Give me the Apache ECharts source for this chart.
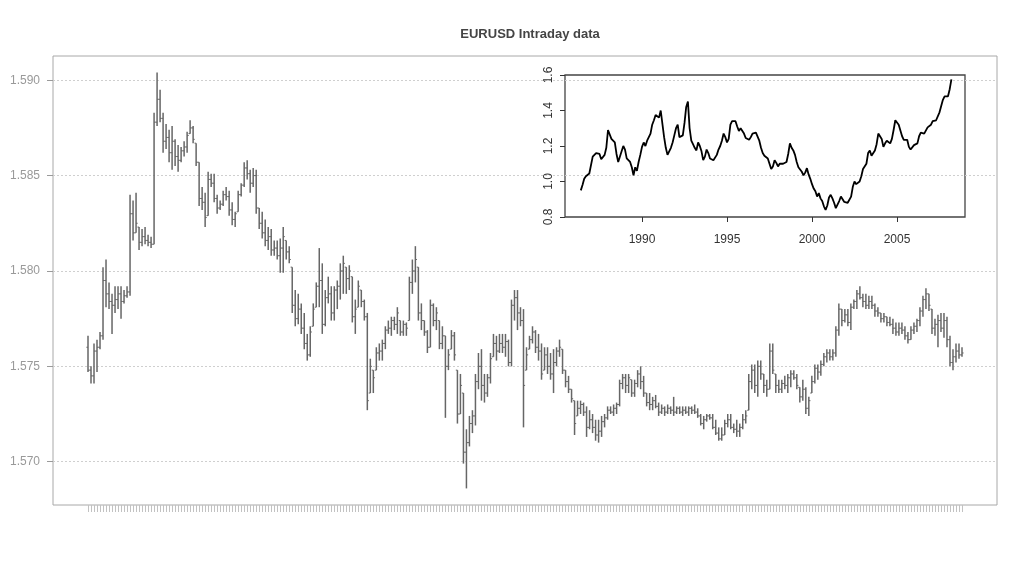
<!DOCTYPE html>
<html>
<head>
<meta charset="utf-8">
<script src="https://cdn.jsdelivr.net/npm/echarts@6/dist/echarts.min.js"></script>
<style>html,body{margin:0;padding:0;background:#fff}#c{width:1024px;height:576px}</style>
</head>
<body>
<div id="c"></div>
<script>
// ---- main chart: OHLC bars (EURUSD intraday) ----
const barOpen = [1.5760,1.5748,1.5745,1.5758,1.5760,1.5766,1.5795,1.5788,1.5784,1.5782,
1.5785,1.5788,1.5784,1.5787,1.5789,1.5830,1.5820,1.5823,1.5815,1.5818,
1.5816,1.5815,1.5814,1.5878,1.5890,1.5880,1.5868,1.5870,1.5862,1.5868,
1.5860,1.5858,1.5863,1.5865,1.5872,1.5875,1.5867,1.5857,1.5838,1.5836,
1.5829,1.5848,1.5846,1.5838,1.5833,1.5835,1.5840,1.5839,1.5832,1.5827,
1.5831,1.5840,1.5845,1.5854,1.5851,1.5846,1.5850,1.5833,1.5825,1.5820,
1.5816,1.5818,1.5811,1.5812,1.5808,1.5812,1.5816,1.5810,1.5802,1.5782,
1.5775,1.5780,1.5770,1.5762,1.5756,1.5771,1.5781,1.5792,1.5795,1.5772,
1.5786,1.5788,1.5778,1.5790,1.5792,1.5800,1.5802,1.5796,1.5797,1.5776,
1.5781,1.5790,1.5784,1.5776,1.5736,1.5748,1.5748,1.5757,1.5758,1.5762,
1.5769,1.5770,1.5774,1.5772,1.5774,1.5768,1.5772,1.5774,1.5794,1.5800,
1.5802,1.5778,1.5774,1.5768,1.5760,1.5782,1.5774,1.5774,1.5762,1.5766,
1.5750,1.5759,1.5766,1.5748,1.5725,1.5736,1.5705,1.5710,1.5720,1.5724,
1.5742,1.5750,1.5740,1.5736,1.5744,1.5755,1.5762,1.5758,1.5762,1.5760,
1.5763,1.5752,1.5782,1.5786,1.5778,1.5774,1.5748,1.5759,1.5764,1.5768,
1.5760,1.5758,1.5748,1.5756,1.5750,1.5746,1.5752,1.5758,1.5759,1.5748,
1.5742,1.5738,1.5732,1.5724,1.5728,1.5730,1.5726,1.5718,1.5722,1.5718,
1.5714,1.5716,1.5721,1.5723,1.5727,1.5726,1.5728,1.5730,1.5741,1.5744,
1.5740,1.5743,1.5736,1.5741,1.5746,1.5742,1.5736,1.5731,1.5730,1.5732,
1.5729,1.5726,1.5728,1.5726,1.5728,1.5727,1.5726,1.5728,1.5726,1.5727,
1.5726,1.5728,1.5727,1.5726,1.5724,1.5720,1.5722,1.5724,1.5723,1.5718,
1.5715,1.5712,1.5714,1.5720,1.5722,1.5718,1.5717,1.5716,1.5718,1.5722,
1.5727,1.5742,1.5748,1.5740,1.5750,1.5746,1.5740,1.5738,1.5758,1.5746,
1.5740,1.5738,1.5741,1.5740,1.5744,1.5746,1.5744,1.5739,1.5734,1.5738,
1.5728,1.5736,1.5742,1.5749,1.5747,1.5751,1.5755,1.5757,1.5755,1.5757,
1.5769,1.5780,1.5774,1.5777,1.5773,1.5781,1.5784,1.5788,1.5786,1.5784,
1.5782,1.5784,1.5782,1.5779,1.5778,1.5775,1.5776,1.5773,1.5772,1.5770,
1.5768,1.5770,1.5769,1.5766,1.5764,1.5769,1.5771,1.5774,1.5779,1.5785,
1.5788,1.5780,1.5770,1.5772,1.5774,1.5770,1.5774,1.5764,1.5752,1.5755,
1.5758,1.5756];
const barHigh = [1.5766,1.5750,1.5762,1.5764,1.5768,1.5802,1.5806,1.5794,1.5788,1.5792,
1.5792,1.5792,1.5790,1.5792,1.5840,1.5837,1.5841,1.5823,1.5822,1.5823,
1.5819,1.5818,1.5883,1.5904,1.5895,1.5883,1.5877,1.5874,1.5876,1.5869,
1.5866,1.5865,1.5868,1.5873,1.5879,1.5876,1.5867,1.5857,1.5844,1.5841,
1.5852,1.5851,1.5851,1.5840,1.5837,1.5842,1.5844,1.5842,1.5836,1.5831,
1.5842,1.5846,1.5857,1.5858,1.5853,1.5854,1.5853,1.5833,1.5831,1.5827,
1.5823,1.5822,1.5816,1.5816,1.5817,1.5823,1.5816,1.5813,1.5802,1.5790,
1.5788,1.5783,1.5778,1.5767,1.5771,1.5783,1.5794,1.5812,1.5804,1.5790,
1.5797,1.5792,1.5792,1.5795,1.5804,1.5808,1.5802,1.5803,1.5797,1.5785,
1.5795,1.5790,1.5785,1.5778,1.5754,1.5748,1.5760,1.5762,1.5764,1.5771,
1.5774,1.5776,1.5776,1.5781,1.5774,1.5774,1.5773,1.5797,1.5806,1.5813,
1.5802,1.5783,1.5774,1.5769,1.5785,1.5783,1.5781,1.5774,1.5771,1.5766,
1.5759,1.5769,1.5768,1.5748,1.5746,1.5736,1.5717,1.5724,1.5727,1.5746,
1.5757,1.5759,1.5746,1.5746,1.5757,1.5767,1.5766,1.5767,1.5767,1.5767,
1.5764,1.5785,1.5790,1.5790,1.5781,1.5780,1.5760,1.5766,1.5771,1.5769,
1.5767,1.5762,1.5760,1.5760,1.5757,1.5759,1.5760,1.5764,1.5759,1.5748,
1.5745,1.5738,1.5732,1.5732,1.5732,1.5731,1.5729,1.5727,1.5725,1.5722,
1.5722,1.5724,1.5725,1.5729,1.5729,1.5730,1.5731,1.5743,1.5746,1.5746,
1.5746,1.5743,1.5743,1.5748,1.5750,1.5745,1.5736,1.5736,1.5734,1.5735,
1.5731,1.5730,1.5729,1.5730,1.5729,1.5734,1.5729,1.5729,1.5729,1.5729,
1.5729,1.5729,1.5730,1.5728,1.5725,1.5724,1.5725,1.5725,1.5725,1.5722,
1.5718,1.5718,1.5722,1.5725,1.5725,1.5720,1.5722,1.5720,1.5725,1.5727,
1.5746,1.5751,1.5751,1.5753,1.5753,1.5746,1.5743,1.5762,1.5762,1.5746,
1.5743,1.5743,1.5745,1.5746,1.5748,1.5748,1.5746,1.5739,1.5743,1.5739,
1.5734,1.5745,1.5751,1.5751,1.5753,1.5757,1.5759,1.5759,1.5759,1.5771,
1.5783,1.5780,1.5780,1.5780,1.5783,1.5785,1.5790,1.5792,1.5788,1.5788,
1.5787,1.5787,1.5783,1.5781,1.5778,1.5778,1.5776,1.5776,1.5775,1.5773,
1.5773,1.5773,1.5771,1.5768,1.5771,1.5773,1.5775,1.5781,1.5787,1.5791,
1.5788,1.5780,1.5775,1.5777,1.5778,1.5778,1.5776,1.5766,1.5759,1.5762,
1.5762,1.5760];
const barLow = [1.5747,1.5741,1.5741,1.5747,1.5759,1.5764,1.5781,1.5780,1.5767,1.5778,
1.5780,1.5775,1.5783,1.5786,1.5787,1.5816,1.5820,1.5811,1.5813,1.5814,
1.5813,1.5812,1.5814,1.5876,1.5878,1.5862,1.5864,1.5857,1.5853,1.5855,
1.5852,1.5857,1.5860,1.5862,1.5872,1.5867,1.5855,1.5834,1.5832,1.5823,
1.5829,1.5844,1.5836,1.5830,1.5832,1.5834,1.5837,1.5829,1.5824,1.5823,
1.5831,1.5839,1.5844,1.5848,1.5841,1.5844,1.5830,1.5822,1.5817,1.5813,
1.5811,1.5808,1.5808,1.5806,1.5799,1.5799,1.5806,1.5804,1.5778,1.5771,
1.5772,1.5767,1.5759,1.5753,1.5755,1.5771,1.5781,1.5781,1.5767,1.5771,
1.5783,1.5774,1.5774,1.5780,1.5785,1.5788,1.5788,1.5790,1.5773,1.5767,
1.5781,1.5781,1.5774,1.5727,1.5736,1.5736,1.5748,1.5753,1.5753,1.5759,
1.5767,1.5766,1.5769,1.5767,1.5766,1.5766,1.5766,1.5774,1.5788,1.5794,
1.5774,1.5769,1.5766,1.5757,1.5760,1.5771,1.5769,1.5759,1.5759,1.5723,
1.5748,1.5759,1.5753,1.5720,1.5725,1.5699,1.5686,1.5708,1.5715,1.5719,
1.5738,1.5732,1.5731,1.5734,1.5741,1.5755,1.5753,1.5757,1.5757,1.5755,
1.5750,1.5750,1.5774,1.5769,1.5771,1.5718,1.5748,1.5759,1.5762,1.5757,
1.5753,1.5743,1.5748,1.5746,1.5743,1.5736,1.5750,1.5755,1.5746,1.5739,
1.5736,1.5731,1.5714,1.5724,1.5725,1.5724,1.5713,1.5717,1.5715,1.5711,
1.5710,1.5713,1.5718,1.5722,1.5725,1.5724,1.5725,1.5729,1.5738,1.5736,
1.5736,1.5734,1.5734,1.5739,1.5738,1.5734,1.5729,1.5727,1.5727,1.5728,
1.5724,1.5725,1.5724,1.5725,1.5725,1.5724,1.5725,1.5725,1.5724,1.5725,
1.5724,1.5725,1.5725,1.5723,1.5719,1.5717,1.5721,1.5722,1.5717,1.5714,
1.5711,1.5711,1.5714,1.5718,1.5717,1.5715,1.5713,1.5713,1.5717,1.5720,
1.5727,1.5738,1.5736,1.5734,1.5743,1.5736,1.5734,1.5738,1.5746,1.5736,
1.5736,1.5736,1.5738,1.5736,1.5739,1.5743,1.5738,1.5731,1.5732,1.5725,
1.5724,1.5736,1.5741,1.5743,1.5745,1.5750,1.5752,1.5753,1.5753,1.5755,
1.5766,1.5771,1.5773,1.5771,1.5769,1.5780,1.5780,1.5785,1.5781,1.5780,
1.5780,1.5780,1.5776,1.5776,1.5773,1.5773,1.5771,1.5771,1.5767,1.5766,
1.5766,1.5767,1.5764,1.5762,1.5764,1.5767,1.5768,1.5771,1.5776,1.5780,
1.5779,1.5767,1.5766,1.5760,1.5768,1.5765,1.5760,1.5750,1.5748,1.5752,
1.5754,1.5755];
const barClose = [1.5748,1.5745,1.5758,1.5760,1.5766,1.5795,1.5788,1.5784,1.5782,1.5785,
1.5788,1.5784,1.5787,1.5789,1.5830,1.5820,1.5825,1.5815,1.5818,1.5816,
1.5815,1.5814,1.5878,1.5890,1.5880,1.5868,1.5870,1.5862,1.5868,1.5860,
1.5858,1.5863,1.5865,1.5871,1.5875,1.5869,1.5857,1.5838,1.5836,1.5828,
1.5848,1.5846,1.5838,1.5833,1.5835,1.5840,1.5839,1.5832,1.5827,1.5830,
1.5840,1.5845,1.5854,1.5851,1.5846,1.5850,1.5833,1.5825,1.5820,1.5816,
1.5818,1.5811,1.5812,1.5808,1.5812,1.5818,1.5810,1.5806,1.5782,1.5775,
1.5780,1.5770,1.5762,1.5756,1.5768,1.5780,1.5792,1.5795,1.5772,1.5786,
1.5788,1.5778,1.5790,1.5792,1.5800,1.5804,1.5796,1.5800,1.5776,1.5780,
1.5792,1.5784,1.5776,1.5732,1.5750,1.5744,1.5757,1.5758,1.5762,1.5769,
1.5770,1.5774,1.5772,1.5778,1.5768,1.5772,1.5770,1.5794,1.5800,1.5806,
1.5778,1.5774,1.5768,1.5760,1.5782,1.5774,1.5778,1.5762,1.5766,1.5750,
1.5756,1.5766,1.5756,1.5725,1.5740,1.5705,1.5710,1.5720,1.5724,1.5742,
1.5750,1.5740,1.5736,1.5744,1.5754,1.5762,1.5758,1.5762,1.5760,1.5763,
1.5752,1.5782,1.5786,1.5778,1.5774,1.5740,1.5756,1.5764,1.5768,1.5760,
1.5758,1.5746,1.5756,1.5750,1.5746,1.5752,1.5758,1.5760,1.5748,1.5742,
1.5738,1.5733,1.5720,1.5728,1.5730,1.5726,1.5718,1.5722,1.5718,1.5714,
1.5716,1.5721,1.5723,1.5727,1.5726,1.5728,1.5730,1.5741,1.5744,1.5740,
1.5744,1.5736,1.5741,1.5746,1.5742,1.5736,1.5731,1.5730,1.5732,1.5729,
1.5726,1.5728,1.5726,1.5728,1.5727,1.5726,1.5728,1.5726,1.5727,1.5726,
1.5728,1.5727,1.5726,1.5724,1.5720,1.5722,1.5724,1.5723,1.5718,1.5715,
1.5712,1.5714,1.5720,1.5722,1.5718,1.5717,1.5716,1.5718,1.5722,1.5724,
1.5742,1.5748,1.5740,1.5750,1.5746,1.5740,1.5738,1.5758,1.5748,1.5740,
1.5738,1.5741,1.5740,1.5744,1.5746,1.5744,1.5740,1.5734,1.5738,1.5728,
1.5732,1.5742,1.5749,1.5747,1.5751,1.5755,1.5757,1.5755,1.5757,1.5769,
1.5780,1.5774,1.5777,1.5773,1.5781,1.5784,1.5788,1.5786,1.5784,1.5782,
1.5784,1.5782,1.5779,1.5778,1.5775,1.5776,1.5773,1.5772,1.5770,1.5768,
1.5770,1.5769,1.5766,1.5764,1.5769,1.5771,1.5774,1.5779,1.5785,1.5788,
1.5782,1.5770,1.5772,1.5774,1.5770,1.5774,1.5764,1.5752,1.5755,1.5758,
1.5756,1.5757];
const mainTicks = [1.570, 1.575, 1.580, 1.585, 1.590];

// ---- inset: long history line ----
const insetYears = [1986.4,1986.5,1986.6,1986.7,1986.8,1986.9,
1987.0,1987.1,1987.2,1987.3,1987.4,1987.5,1987.6,1987.7,1987.8,1987.9,
1988.0,1988.1,1988.2,1988.3,1988.4,1988.5,1988.6,1988.7,1988.8,1988.9,
1989.0,1989.1,1989.2,1989.3,1989.4,1989.5,1989.6,1989.7,1989.8,1989.9,
1990.0,1990.1,1990.2,1990.3,1990.4,1990.5,1990.6,1990.7,1990.8,1990.9,
1991.0,1991.1,1991.2,1991.3,1991.4,1991.5,1991.6,1991.7,1991.8,1991.9,
1992.0,1992.1,1992.2,1992.3,1992.4,1992.5,1992.6,1992.7,1992.8,1992.9,
1993.0,1993.1,1993.2,1993.3,1993.4,1993.5,1993.6,1993.7,1993.8,1993.9,
1994.0,1994.1,1994.2,1994.3,1994.4,1994.5,1994.6,1994.7,1994.8,1994.9,
1995.0,1995.1,1995.2,1995.3,1995.4,1995.5,1995.6,1995.7,1995.8,1995.9,
1996.0,1996.1,1996.2,1996.3,1996.4,1996.5,1996.6,1996.7,1996.8,1996.9,
1997.0,1997.1,1997.2,1997.3,1997.4,1997.5,1997.6,1997.7,1997.8,1997.9,
1998.0,1998.1,1998.2,1998.3,1998.4,1998.5,1998.6,1998.7,1998.8,1998.9,
1999.0,1999.1,1999.2,1999.3,1999.4,1999.5,1999.6,1999.7,1999.8,1999.9,
2000.0,2000.1,2000.2,2000.3,2000.4,2000.5,2000.6,2000.7,2000.8,2000.9,
2001.0,2001.1,2001.2,2001.3,2001.4,2001.5,2001.6,2001.7,2001.8,2001.9,
2002.0,2002.1,2002.2,2002.3,2002.4,2002.5,2002.6,2002.7,2002.8,2002.9,
2003.0,2003.1,2003.2,2003.3,2003.4,2003.5,2003.6,2003.7,2003.8,2003.9,
2004.0,2004.1,2004.2,2004.3,2004.4,2004.5,2004.6,2004.7,2004.8,2004.9,
2005.0,2005.1,2005.2,2005.3,2005.4,2005.5,2005.6,2005.7,2005.8,2005.9,
2006.0,2006.1,2006.2,2006.3,2006.4,2006.5,2006.6,2006.7,2006.8,2006.9,
2007.0,2007.1,2007.2,2007.3,2007.4,2007.5,2007.6,2007.7,2007.8,2007.9,
2008.0,2008.1,2008.2];
const insetValues = [0.95,0.98,1.015,1.03,1.04,1.045,1.035,1.14,1.15,1.16,
1.17,1.155,1.125,1.135,1.15,1.19,1.29,1.28,1.24,1.25,
1.22,1.155,1.11,1.12,1.17,1.20,1.18,1.13,1.12,1.11,
1.08,1.035,1.08,1.06,1.11,1.15,1.195,1.22,1.20,1.23,
1.24,1.27,1.32,1.345,1.375,1.38,1.36,1.40,1.41,1.25,
1.19,1.15,1.14,1.19,1.22,1.26,1.30,1.32,1.25,1.24,
1.26,1.33,1.42,1.45,1.30,1.23,1.21,1.19,1.175,1.22,
1.20,1.17,1.12,1.14,1.18,1.16,1.13,1.12,1.12,1.13,
1.15,1.18,1.20,1.23,1.27,1.25,1.22,1.24,1.32,1.34,
1.33,1.34,1.31,1.285,1.30,1.29,1.27,1.245,1.24,1.235,
1.25,1.27,1.275,1.275,1.265,1.23,1.19,1.16,1.145,1.15,
1.13,1.10,1.07,1.085,1.12,1.105,1.085,1.10,1.09,1.10,
1.09,1.11,1.155,1.215,1.19,1.175,1.15,1.11,1.08,1.09,
1.055,1.035,1.05,1.075,1.04,1.015,0.985,0.96,0.945,0.915,
0.935,0.905,0.89,0.86,0.84,0.865,0.91,0.925,0.905,0.88,
0.85,0.86,0.89,0.915,0.905,0.885,0.88,0.88,0.88,0.915,
0.97,1.0,0.985,0.985,1.0,1.03,1.07,1.08,1.10,1.16,
1.175,1.145,1.15,1.175,1.21,1.27,1.28,1.24,1.195,1.215,
1.23,1.22,1.215,1.24,1.29,1.345,1.35,1.32,1.31,1.255,
1.235,1.225,1.235,1.195,1.18,1.185,1.205,1.21,1.215,1.255,
1.275,1.275,1.27,1.275,1.305,1.315,1.32,1.34,1.35,1.345,
1.35,1.39,1.425,1.46,1.48,1.47,1.48,1.52,1.575];
const insetYearTicks = [1990, 1995, 2000, 2005];
const insetValueTicks = [0.8, 1.0, 1.2, 1.4, 1.6];

// ---- build ----
const barCategories = barClose.map((_, i) => String(i + 1));
const ohlc = barClose.map((c, i) => [i, barOpen[i], barHigh[i], barLow[i], c]);
const insetData = insetValues.map((v, i) => [insetYears[i], v]);

const FONT = '"Liberation Sans", Arial, Helvetica, sans-serif';
const BAR_COLOR = '#666666';

const chart = echarts.init(document.getElementById('c'), null, {renderer: 'canvas'});
chart.setOption({
  animation: false,
  backgroundColor: '#ffffff',
  textStyle: {fontFamily: FONT},
  title: {
    text: 'EURUSD Intraday data',
    left: 525, top: 23, textAlign: 'center',
    textStyle: {fontSize: 13, fontWeight: 'bold', color: '#444', fontFamily: FONT}
  },
  grid: [
    {left: 53, right: 27, top: 56, bottom: 71, show: true, borderColor: '#a8a8a8', borderWidth: 1, backgroundColor: 'transparent'},
    {left: 88, right: 62, top: 56, bottom: 71},
    {left: 565, right: 59, top: 75, bottom: 359, show: true, borderColor: '#444', borderWidth: 1.3, backgroundColor: 'transparent'}
  ],
  xAxis: [
    {gridIndex: 0, type: 'value', min: 0, max: 1, show: false},
    {gridIndex: 1, type: 'category', data: barCategories, boundaryGap: false,
      axisLine: {show: false},
      axisTick: {show: true, interval: 0, length: 7, lineStyle: {color: '#c2c2c2', width: 1}},
      axisLabel: {show: false}, splitLine: {show: false}},
    {gridIndex: 2, type: 'value', min: 1985.47, max: 2009.0,
      axisLine: {show: false},
      axisTick: {show: true, length: 5, customValues: insetYearTicks, lineStyle: {color: '#333'}},
      axisLabel: {show: true, customValues: insetYearTicks,
        color: '#333', fontSize: 12, margin: 17, formatter: v => String(Math.round(v))},
      splitLine: {show: false}}
  ],
  yAxis: [
    {gridIndex: 0, type: 'value', min: 1.56773, max: 1.59127,
      axisLine: {show: false},
      axisTick: {show: true, length: 6, customValues: mainTicks, lineStyle: {color: '#9a9a9a'}},
      axisLabel: {show: true, customValues: mainTicks,
        color: '#999', fontSize: 12, margin: 13, formatter: v => v.toFixed(3)},
      splitLine: {show: true, lineStyle: {type: [2, 2], color: '#cfcfcf', width: 1}}},
    {gridIndex: 1, type: 'value', min: 1.56773, max: 1.59127, show: false, splitLine: {show: false}},
    {gridIndex: 2, type: 'value', min: 0.8, max: 1.6, interval: 0.2,
      axisLine: {show: false},
      axisTick: {show: true, length: 5, customValues: insetValueTicks, lineStyle: {color: '#333'}},
      axisLabel: {show: true, customValues: insetValueTicks, rotate: 90, color: '#333', fontSize: 12, margin: 10, formatter: v => v.toFixed(1)},
      splitLine: {show: false}}
  ],
  series: [
    {
      type: 'custom', xAxisIndex: 1, yAxisIndex: 1, data: ohlc,
      renderItem: function (params, api) {
        const idx = api.value(0);
        const o = api.coord([idx, api.value(1)]);
        const h = api.coord([idx, api.value(2)]);
        const l = api.coord([idx, api.value(3)]);
        const c = api.coord([idx, api.value(4)]);
        const x = h[0];
        const st = {stroke: BAR_COLOR, lineWidth: 1.5};
        return {type: 'group', children: [
          {type: 'line', shape: {x1: x, y1: h[1], x2: x, y2: l[1]}, style: st},
          {type: 'line', shape: {x1: x - 1.6, y1: o[1], x2: x, y2: o[1]}, style: {stroke: BAR_COLOR, lineWidth: 1}},
          {type: 'line', shape: {x1: x, y1: c[1], x2: x + 1.6, y2: c[1]}, style: {stroke: BAR_COLOR, lineWidth: 1}}
        ]};
      }
    },
    {
      type: 'line', xAxisIndex: 2, yAxisIndex: 2, data: insetData,
      showSymbol: false, symbol: 'none',
      lineStyle: {color: '#000', width: 1.8}
    }
  ]
});
</script>
</body>
</html>
